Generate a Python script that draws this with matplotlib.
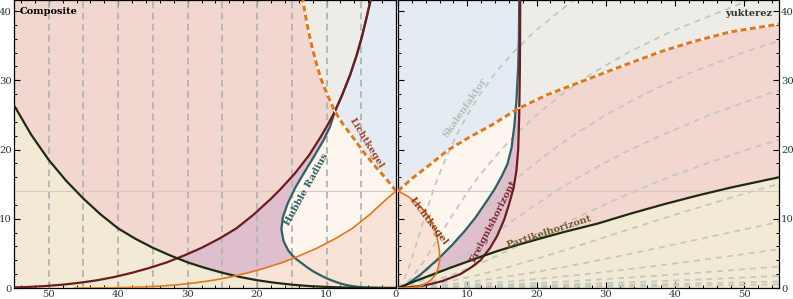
import matplotlib
matplotlib.use("Agg")
import matplotlib.pyplot as plt
from matplotlib.ticker import MultipleLocator, FuncFormatter

plt.rcParams['font.family'] = ['DejaVu Serif']

YTOP = 41.6
NOW = 14.0

# ---- left panel: comoving distance [Gly] vs time [Gyr] ----
eh_cx = [58, 55.5, 53, 50.5, 48, 45.5, 43, 40.5, 38, 35.5, 33, 30.5, 28, 25.5, 23, 20.5, 18, 16.7,
         14.6, 12.5, 10.8, 9.65, 8.8, 7.74, 6.6, 5.67, 4.93, 4.3, 3.65]
eh_cy = [0.02, 0.07, 0.15, 0.28, 0.48, 0.76, 1.12, 1.6, 2.2, 2.9, 3.7, 4.7, 5.8, 7.1, 8.6, 10.6, 12.9, 14.2,
         16.5, 19.2, 21.9, 23.9, 25.5, 27.9, 30.8, 33.6, 36.2, 38.8, 41.6]

ph_cx = [0, 5, 7.5, 10, 12.5, 15, 17.5, 20, 22.5, 25, 27.5, 30, 32.5, 35, 37.5, 40, 42.5, 45, 47.5,
         50, 52.5, 55, 57]
ph_cy = [0, 0.02, 0.07, 0.15, 0.28, 0.48, 0.76, 1.12, 1.6, 2.2, 2.9, 3.7, 4.7, 5.8, 7.1, 8.6, 10.6, 12.9, 15.5,
         18.5, 22.1, 26.4, 30.0]

hr_cx = [0, 2.5, 4.7, 6.0, 7.0, 8.0, 9.0, 10.0, 11.0, 12.0, 12.8, 13.6, 14.4, 15.0, 15.5, 16.2, 16.5, 16.3,
         15.6, 14.5, 13.2, 11.8, 10.4, 9.5, 8.8, 7.74, 6.6, 5.67, 4.93, 4.3, 3.65]
hr_cy = [0, 0.02, 0.1, 0.22, 0.4, 0.65, 1.0, 1.4, 1.9, 2.45, 3.0, 3.6, 4.2, 4.8, 5.4, 6.8, 8.5, 10.2,
         12.2, 14.5, 16.7, 19.0, 21.4, 23.3, 25.5, 27.9, 30.8, 33.6, 36.2, 38.8, 41.6]

lc_cx = [0, 1.3, 3.8, 6.3, 8.8, 11.3, 13.8, 16.3, 18.8, 21.3, 23.8, 26.3, 28.8, 31.3, 33.8, 36.3, 38.8,
         41.3, 46.3]
lc_cy = [14.0, 12.9, 10.6, 8.6, 7.1, 5.8, 4.7, 3.7, 2.9, 2.2, 1.6, 1.12, 0.76, 0.48, 0.28, 0.15, 0.07,
         0.02, 0.0]

fl_cx = [0, 1.6, 3.2, 4.8, 6.3, 7.6, 8.8, 9.8, 10.8, 11.6, 12.3, 12.9, 13.4]
fl_cy = [14.0, 16.0, 17.8, 19.8, 21.9, 23.6, 25.5, 27.7, 30.2, 32.9, 35.7, 38.6, 41.6]

comoving_lines = [5, 10, 15, 20, 25, 30, 35, 40, 45, 50]

# ---- right panel: proper distance [Gly] vs time [Gyr] ----
eh_px = [0, 1.1, 3.0, 4.4, 6.4, 9.0, 10.6, 11.9, 13.3, 14.3, 15.3, 16.0, 16.7, 17.1, 17.35, 17.5, 17.6, 17.65]
eh_py = [0, 0.05, 0.25, 0.5, 1.0, 2.0, 3.0, 4.0, 5.8, 7.5, 9.8, 12.0, 14.5, 17.0, 20.0, 25.0, 32.0, 41.6]

hr_px = [0, 1.0, 3.2, 5.75, 7.8, 9.6, 11.2, 12.5, 13.9, 15.0, 15.8, 16.4, 16.8, 17.1, 17.35, 17.45, 17.5]
hr_py = [0, 0.3, 1.9, 4.15, 6.2, 8.2, 10.2, 12.1, 14.2, 16.2, 17.9, 20.3, 23.5, 27.1, 32.0, 36.0, 41.6]

ph_px = [0, 1.2, 2.5, 5.0, 7.5, 10.0, 12.2, 14.4, 17.0, 20.0, 24.0, 28.8, 33.6, 38.4, 43.2, 48.0, 55.5]
ph_py = [0, 0.5, 1.0, 1.95, 2.9, 3.8, 4.6, 5.35, 6.15, 7.0, 8.1, 9.3, 10.75, 12.1, 13.35, 14.5, 16.1]

lc_px = [0, 1.5, 2.9, 3.5, 4.3, 4.9, 5.5, 5.8, 6.0, 6.0, 5.75, 5.4, 4.8, 4.0, 2.9, 1.5, 0]
lc_py = [0, 0.02, 0.15, 0.4, 0.8, 1.3, 2.0, 2.9, 3.9, 5.3, 6.8, 8.2, 9.7, 10.9, 12.1, 13.2, 14.0]

fl_px = [0, 2.0, 4.2, 7.2, 10.0, 13.8, 17.3, 21.5, 25.9, 28.8, 33.5, 38.4, 43.0, 48.0, 56.8]
fl_py = [14.0, 15.8, 17.5, 19.9, 21.6, 23.7, 25.9, 27.9, 29.6, 30.7, 32.5, 34.3, 35.7, 37.0, 38.4]

# comoving worldlines seen in proper distance (grey dashed)
wl_t = [0, 0.25, 0.5, 1, 2, 3, 4, 6, 8, 10, 12, 14, 16, 18, 20, 22, 25, 28, 31, 34, 37, 41.5]
worldlines_x = [
    [0, 0.30, 0.47, 0.75, 1.19, 1.57, 1.91, 2.54, 3.15, 3.76, 4.41, 5.06, 5.79, 6.60, 7.47, 8.42, 10.0, 11.85, 14.0, 16.6, 19.65, 25.25],
    [0, 0.59, 0.94, 1.50, 2.38, 3.13, 3.82, 5.09, 6.30, 7.53, 8.82, 10.13, 11.59, 13.20, 14.93, 16.84, 20.0, 23.7, 28.0, 33.2, 39.3, 50.5],
    [0, 0.89, 1.41, 2.24, 3.57, 4.70, 5.73, 7.63, 9.45, 11.29, 13.22, 15.19, 17.38, 19.80, 22.40, 25.26, 30.0, 35.55, 42.0, 49.8, 58.95],
    [0, 1.34, 2.12, 3.36, 5.36, 7.05, 8.59, 11.44, 14.18, 16.94, 19.84, 22.79, 26.07, 29.71, 33.59, 37.89, 45.0, 53.3, 63.0],
    [0, 2.0, 3.18, 5.05, 8.04, 10.58, 12.89, 17.17, 21.27, 25.41, 29.75, 34.18, 39.11, 44.56, 50.39, 56.84],
    [0, 3.0, 4.77, 7.56, 12.06, 15.86, 19.32, 25.74, 31.89, 38.10, 44.61, 51.24, 58.63],
    [0, 4.51, 7.15, 11.35, 18.09, 23.79, 28.98, 38.60, 47.83, 57.15],
    [0, 6.77, 10.73, 17.03, 27.14, 35.70, 43.49, 57.93],
    [0, 10.15, 16.10, 25.55, 40.73, 53.56, 65.25],
    [0, 15.22, 24.14, 38.32, 61.08],
    [0, 22.83, 36.21, 57.47],
    [0, 34.26, 54.32, 86.2],
]

# colours
PINK = '#f2d6d0'
GREY = '#eeece7'
BLUE = '#e5ebf2'
CREAM = '#fdf6ee'
PEACH = '#f9e2d6'
YELLOW = '#f2ead4'
PURPLE = '#dfbecd'
DARKRED = '#6b1c22'
TEAL = '#2e6064'
OLIVE = '#1f2a16'
ORANGE = '#e07818'


def pts(xs, ys):
    return list(zip(xs, ys))


def fill(ax, poly, color, z=1):
    xs, ys = zip(*poly)
    ax.fill(xs, ys, color=color, lw=0, zorder=z)


def dashed_cone(ax, xs, ys):
    ax.plot(xs, ys, color='white', lw=1.0, zorder=4)
    ax.plot(xs, ys, color=ORANGE, lw=2.1, dashes=(2.0, 1.2), zorder=4)


def style(ax):
    ax.set_ylim(0, YTOP)
    ax.xaxis.set_major_locator(MultipleLocator(10))
    ax.xaxis.set_minor_locator(MultipleLocator(2))
    ax.yaxis.set_major_locator(MultipleLocator(10))
    ax.yaxis.set_minor_locator(MultipleLocator(2))
    ax.tick_params(which='major', direction='in', length=4, width=0.8, labelsize=7.2,
                   pad=1.5, colors='black', labelcolor='#1d3a2a')
    ax.tick_params(which='minor', direction='in', length=2.3, width=0.7)
    for s in ax.spines.values():
        s.set_linewidth(0.9)


fig = plt.figure(figsize=(7.93, 2.99), dpi=100)
axL = fig.add_axes([14 / 793, 11 / 299, 382 / 793, 288 / 299])
axR = fig.add_axes([398 / 793, 11 / 299, 381 / 793, 288 / 299])

# ================= left panel =================
axL.set_facecolor(PINK)
axL.set_xlim(55, 0)
m = 6  # index where future light cone meets event horizon
cone_down = pts(fl_cx[:m + 1], fl_cy[:m + 1])[::-1]
fill(axL, [p for p in pts(eh_cx, eh_cy) if p[1] <= fl_cy[m]] + cone_down + [(0, 0), (eh_cx[0], 0)], PURPLE)
fill(axL, [p for p in pts(hr_cx, hr_cy) if p[1] <= fl_cy[m]] + cone_down + [(0, 0)], CREAM)
axL.fill_between(lc_cx, 0, lc_cy, color=PEACH, lw=0, zorder=1)
axL.fill_between(ph_cx, 0, ph_cy, color=YELLOW, lw=0, zorder=1)
fill(axL, pts(fl_cx, fl_cy) + [(fl_cx[-1], YTOP), (0, YTOP)], GREY)
fill(axL, pts(fl_cx[:m + 1], fl_cy[:m + 1]) + [p for p in pts(eh_cx, eh_cy) if p[1] > fl_cy[m]]
     + [(0, YTOP)], BLUE)

for c in comoving_lines:
    axL.axvline(c, color='#b3b3b3', lw=1.3, dashes=(3.6, 2.6), zorder=2)
axL.axhline(NOW, color='#d6cbc2', lw=0.8, zorder=2)

axL.plot(hr_cx, hr_cy, color=TEAL, lw=1.6, zorder=3)
axL.plot(eh_cx, eh_cy, color=DARKRED, lw=1.6, zorder=3)
axL.plot(ph_cx, ph_cy, color=OLIVE, lw=1.6, zorder=3)
axL.plot(lc_cx, lc_cy, color=ORANGE, lw=1.2, zorder=3)
dashed_cone(axL, fl_cx, fl_cy)

style(axL)
axL.tick_params(which='both', top=True, right=False, left=True, bottom=True)
axL.text(54.2, 39.9, 'Composite', fontsize=7, fontweight='bold', ha='left', va='center', zorder=5)
axL.text(4.2, 20.9, 'Lichtkegel', fontsize=7, fontweight='bold', color='#a8432a', rotation=-58.5,
         ha='center', va='center', rotation_mode='anchor', zorder=5)
axL.text(12.9, 14.3, 'Hubble Radius', fontsize=7, fontweight='bold', color='#2f5f60', rotation=61,
         ha='center', va='center', rotation_mode='anchor', zorder=5)

# ================= right panel =================
axR.set_facecolor(PINK)
axR.set_xlim(0, 55)
k = 6  # index where future light cone meets the horizons
cone_down = pts(fl_px[:k + 1], fl_py[:k + 1])[::-1]
fill(axR, [p for p in pts(eh_px, eh_py) if p[1] < fl_py[k]] + cone_down + [(0, 0)], PURPLE)
fill(axR, [p for p in pts(hr_px, hr_py) if p[1] < fl_py[k]] + cone_down + [(0, 0)], CREAM)
fill(axR, pts(lc_px, lc_py), PEACH)
axR.fill_between(ph_px, 0, ph_py, color=YELLOW, lw=0, zorder=1)
fill(axR, pts(fl_px, fl_py) + [(fl_px[-1], YTOP), (0, YTOP)], GREY)
fill(axR, pts(fl_px[:k + 1], fl_py[:k + 1]) + [p for p in pts(eh_px, eh_py) if p[1] > fl_py[k]]
     + [(0, YTOP)], BLUE)

for wx in worldlines_x:
    axR.plot(wx, wl_t[:len(wx)], color='#c2c9bf', lw=1.3, dashes=(3.3, 2.8), zorder=2)
axR.axhline(NOW, color='#d6cbc2', lw=0.8, zorder=2)

axR.plot(hr_px, hr_py, color=TEAL, lw=1.6, zorder=3)
axR.plot(eh_px, eh_py, color=DARKRED, lw=1.6, zorder=3)
axR.plot(ph_px, ph_py, color=OLIVE, lw=1.6, zorder=3)
axR.plot(lc_px, lc_py, color=ORANGE, lw=1.2, zorder=3)
dashed_cone(axR, fl_px, fl_py)

style(axR)
axR.tick_params(which='both', top=True, right=True, left=True, bottom=True,
                labelleft=False, labelright=True)
axR.xaxis.set_major_formatter(FuncFormatter(lambda v, p: '' if v == 0 else f'{v:g}'))
axR.text(9.7, 26.1, 'Skalenfaktor', fontsize=7, fontweight='bold', color='#b4bcb4', rotation=55.6,
         ha='center', va='center', rotation_mode='anchor', zorder=5)
axR.text(54.0, 39.7, 'yukterez', fontsize=7, fontweight='bold', color='#333333',
         ha='right', va='center', zorder=5)
axR.text(4.4, 9.6, 'Lichtkegel', fontsize=7, fontweight='bold', color='#8b3a1a', rotation=-52.8,
         ha='center', va='center', rotation_mode='anchor', zorder=5)
axR.text(13.8, 9.6, 'Ereignishorizont', fontsize=7, fontweight='bold', color='#7d2a30', rotation=62.9,
         ha='center', va='center', rotation_mode='anchor', zorder=5)
axR.text(21.8, 8.1, 'Partikelhorizont', fontsize=7, fontweight='bold', color='#6b5a2a', rotation=18,
         ha='center', va='center', rotation_mode='anchor', zorder=5)

fig.savefig('out.png', dpi=100)
